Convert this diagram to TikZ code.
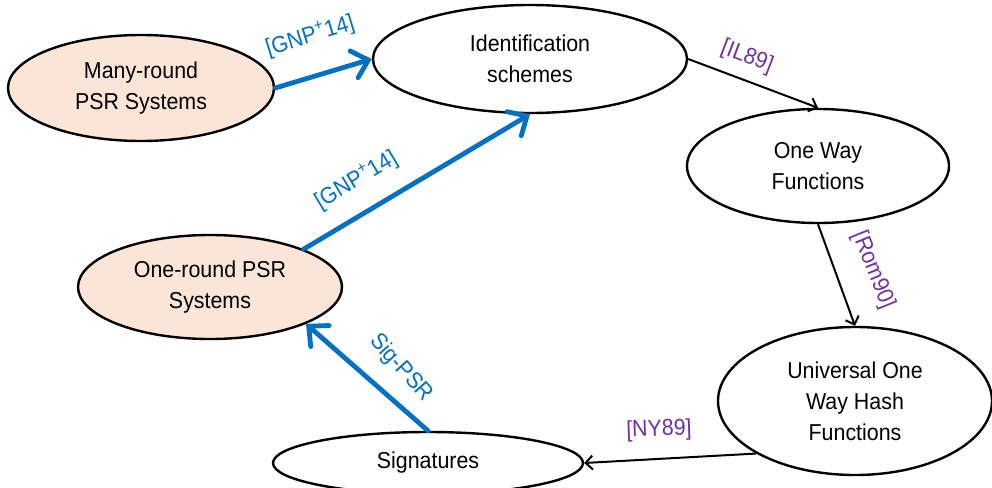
\documentclass[tikz,border=0pt]{standalone}
\usepackage{fontspec}
\setmainfont{Liberation Sans}[FakeStretch=0.93]
\usetikzlibrary{shapes.geometric,arrows.meta}
\definecolor{peach}{HTML}{FBE5D6}
\definecolor{refblue}{HTML}{0070C0}
\definecolor{refpurple}{HTML}{7030A0}
\tikzset{
  oval/.style={ellipse, draw=black, line width=2.4pt, inner sep=0pt, align=center,
    font=\fontsize{23}{31}\selectfont},
  psr/.style={oval, fill=peach},
  plain/.style={oval, fill=white},
  bluearrow/.style={draw=refblue, line width=4.8pt, line cap=round,
    -{Straight Barb[length=15pt,width=28pt,line cap=round]}},
  blackarrow/.style={draw=black, line width=2pt,
    -{Straight Barb[length=7pt,width=14pt]}},
  bluelabel/.style={text=refblue, font=\fontsize{23}{28}\selectfont, inner sep=0pt},
  purplelabel/.style={text=refpurple, font=\fontsize{23}{28}\selectfont, inner sep=0pt}
}
\begin{document}
\begin{tikzpicture}[x=1pt,y=-1pt]
\useasboundingbox (0,0) rectangle (992,487);
\node[psr, minimum width=266pt, minimum height=106pt] (many) at (141,88) {Many-round\\PSR Systems};
\node[plain, minimum width=314pt, minimum height=108pt] (ident) at (530,59) {Identification\\schemes};
\node[plain, minimum width=262pt, minimum height=114pt] (oneway) at (818,166) {One Way\\Functions};
\node[psr, minimum width=264pt, minimum height=104pt] (oneround) at (210,287) {One-round PSR\\Systems};
\node[plain, minimum width=274pt, minimum height=148pt] (univ) at (855,401) {Universal One\\Way Hash\\Functions};
\node[plain, minimum width=310pt, minimum height=62pt] (sig) at (428,463) {Signatures};

\draw[bluearrow] (many.east) -- (ident.west);
\draw[bluearrow] (oneround.22) -- (ident.south);
\draw[bluearrow] (sig.north) -- (oneround.-21);
\draw[blackarrow] (ident.east) -- (oneway.north);
\draw[blackarrow] (oneway.south) -- (univ.north);
\draw[blackarrow] (univ.208) -- (sig.east);

\node[bluelabel, rotate=17] (l1) at (310,36) {[GNP\textsuperscript{+}14]};
\node[bluelabel, rotate=31] (l2) at (356,180) {[GNP\textsuperscript{+}14]};
\node[bluelabel, rotate=-48] (l3) at (401,368) {Sig-PSR};
\node[purplelabel, rotate=-21] (l4) at (747,57) {[IL89]};
\node[purplelabel, rotate=-68] (l5) at (873,270) {[Rom90]};
\node[purplelabel, rotate=2] (l6) at (659,430) {[NY89]};
\end{tikzpicture}
\end{document}
